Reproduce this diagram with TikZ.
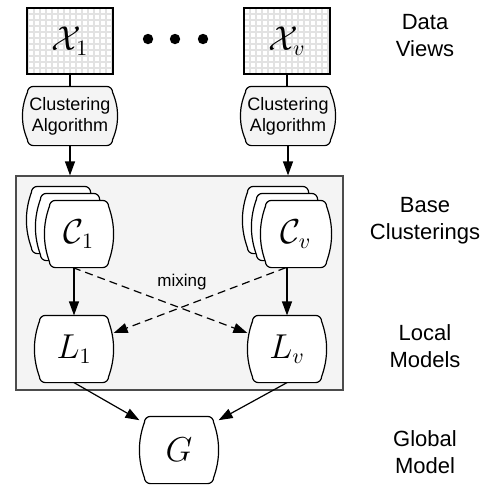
\documentclass[tikz,border=0pt]{standalone}
\usepackage{fontspec}
\setmainfont{Liberation Sans}
\usetikzlibrary{arrows.meta, positioning}
\definecolor{panel}{RGB}{244,244,244}
\definecolor{cell}{RGB}{226,226,226}

% box with slightly bulging sides and rounded corners
\newdimen\blobxl \newdimen\blobxr \newdimen\blobyb \newdimen\blobyt
\makeatletter
\pgfdeclareshape{bulgebox}{%
  \inheritsavedanchors[from=rectangle]%
  \inheritanchorborder[from=rectangle]%
  \inheritanchor[from=rectangle]{center}%
  \inheritanchor[from=rectangle]{north}%
  \inheritanchor[from=rectangle]{south}%
  \inheritanchor[from=rectangle]{east}%
  \inheritanchor[from=rectangle]{west}%
  \inheritanchor[from=rectangle]{north east}%
  \inheritanchor[from=rectangle]{north west}%
  \inheritanchor[from=rectangle]{south east}%
  \inheritanchor[from=rectangle]{south west}%
  \inheritanchor[from=rectangle]{base}%
  \inheritanchor[from=rectangle]{mid}%
  \backgroundpath{%
    \southwest \blobxl=\pgf@x \blobyb=\pgf@y
    \northeast \blobxr=\pgf@x \blobyt=\pgf@y
    \pgfpathmoveto{\pgfpoint{\blobxl+5.5pt}{\blobyt}}%
    \pgfpathlineto{\pgfpoint{\blobxr-5.5pt}{\blobyt}}%
    \pgfpathcurveto{\pgfpoint{\blobxr-3.85pt}{\blobyt}}{\pgfpoint{\blobxr-2.5pt}{\blobyt-1.35pt}}{\pgfpoint{\blobxr-2.5pt}{\blobyt-3pt}}%
    \pgfpathcurveto{\pgfpoint{\blobxr+0.83pt}{\blobyt-3pt-(\blobyt-\blobyb-6pt)/3}}{\pgfpoint{\blobxr+0.83pt}{\blobyb+3pt+(\blobyt-\blobyb-6pt)/3}}{\pgfpoint{\blobxr-2.5pt}{\blobyb+3pt}}%
    \pgfpathcurveto{\pgfpoint{\blobxr-2.5pt}{\blobyb+1.35pt}}{\pgfpoint{\blobxr-3.85pt}{\blobyb}}{\pgfpoint{\blobxr-5.5pt}{\blobyb}}%
    \pgfpathlineto{\pgfpoint{\blobxl+5.5pt}{\blobyb}}%
    \pgfpathcurveto{\pgfpoint{\blobxl+3.85pt}{\blobyb}}{\pgfpoint{\blobxl+2.5pt}{\blobyb+1.35pt}}{\pgfpoint{\blobxl+2.5pt}{\blobyb+3pt}}%
    \pgfpathcurveto{\pgfpoint{\blobxl-0.83pt}{\blobyb+3pt+(\blobyt-\blobyb-6pt)/3}}{\pgfpoint{\blobxl-0.83pt}{\blobyt-3pt-(\blobyt-\blobyb-6pt)/3}}{\pgfpoint{\blobxl+2.5pt}{\blobyt-3pt}}%
    \pgfpathcurveto{\pgfpoint{\blobxl+2.5pt}{\blobyt-1.35pt}}{\pgfpoint{\blobxl+3.85pt}{\blobyt}}{\pgfpoint{\blobxl+5.5pt}{\blobyt}}%
    \pgfpathclose
  }%
}
\makeatother

\begin{document}
\begin{tikzpicture}[x=0.5pt, y=-0.5pt, semithick, >={Triangle[length=7pt,width=5pt]}]
        \tikzstyle{view}=[draw=black, fill=white, minimum width=43pt, minimum height=33pt, font=\fontsize{16}{18}\selectfont,
            path picture={\draw[cell, line width=1pt, step=3pt] (path picture bounding box.south west) grid (path picture bounding box.north east);}]
        \tikzstyle{blob}=[draw=black, fill=white, bulgebox, minimum width=39pt, minimum height=33pt, inner sep=2pt,
            font=\fontsize{16}{18}\selectfont]
        \tikzstyle{algo}=[blob, fill=panel, minimum width=47pt, minimum height=29pt, align=center, font=\fontsize{9}{10.5}\selectfont]
        \tikzstyle{tag}=[align=center, font=\fontsize{11}{13.5}\selectfont]
        \tikzstyle{mixline}=[->, dash pattern=on 4pt off 2.5pt]
        \useasboundingbox (0,0) rectangle (490,484);
        \node[draw=black!70, fill=panel, minimum width=163.5pt, minimum height=107pt, inner sep=0pt](panel) at (179.5,283){};
        \node[view](X1) at (70,41){$\mathcal{X}_1$};
        \node[view](Xv) at (287,41){$\mathcal{X}_v$};
        \foreach \x in {148,175,203}
            \fill (\x,39) circle (2.6pt);
        \node[algo](A1) at (70,116){Clustering\\Algorithm};
        \node[algo](Av) at (288,116){Clustering\\Algorithm};
        \node[blob, minimum width=34pt](C1bb) at (61,220){};
        \node[blob, minimum width=34pt](C1b) at (70,227){};
        \node[blob, minimum width=34pt](C1) at (79,234){$\mathcal{C}_1$};
        \node[blob, minimum width=35pt](Cvbb) at (278,220){};
        \node[blob, minimum width=35pt](Cvb) at (287,227){};
        \node[blob, minimum width=35pt](Cv) at (296,234){$\mathcal{C}_v$};
        \node[blob](L1) at (74,349){$L_1$};
        \node[blob](Lv) at (287,349){$L_v$};
        \node[blob](G) at (179,450){$G$};
        \node[font=\fontsize{8.5}{10}\selectfont](mix) at (182,282){mixing};
        \node[tag](views) at (425,36){Data\\Views};
        \node[tag](base) at (425,221){Base\\Clusterings};
        \node[tag](local) at (425,346){Local\\Models};
        \node[tag](global) at (425,452){Global\\Model};
        \draw (X1) -- (A1);
        \draw (Xv) -- (Xv |- Av.north);
        \draw[->] (A1) -- (A1 |- panel.north);
        \draw[->] (Av) -- (Av |- panel.north);
        \draw[->] (C1.south -| L1) -- (L1);
        \draw[->] (Cv.south -| Lv) -- (Lv);
        \draw[mixline] ([xshift=-3pt]C1.south) -- (Lv.158);
        \draw[mixline] ([xshift=-5pt]Cv.south) -- (L1.22);
        \draw[->] (L1.south) -- (G.143);
        \draw[->] (Lv.south) -- (G.37);
     \end{tikzpicture}
\end{document}
